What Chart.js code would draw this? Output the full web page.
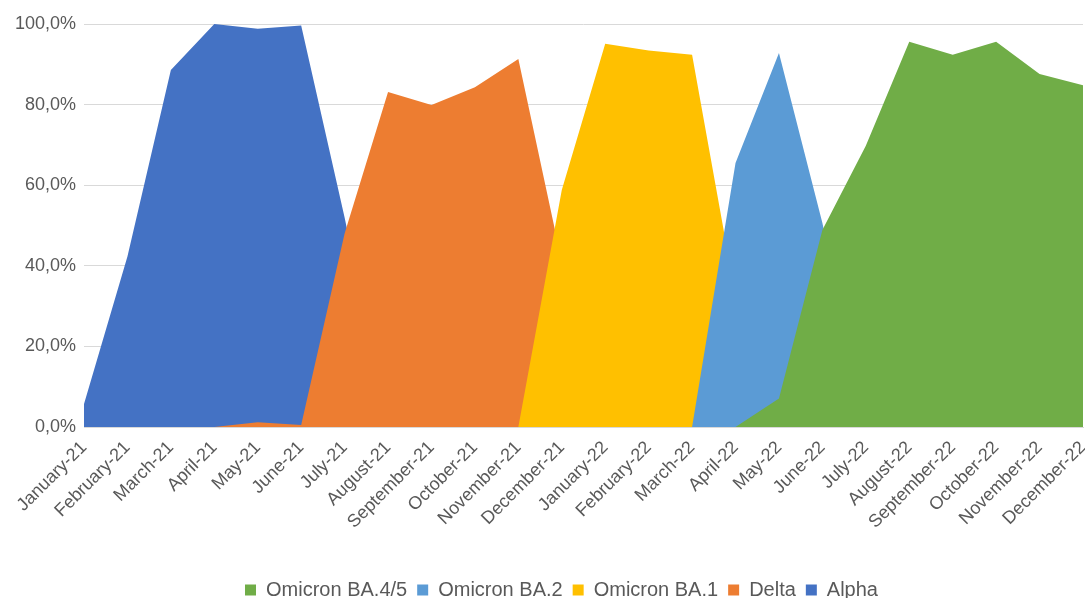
<!DOCTYPE html>
<html>
<head>
<meta charset="utf-8">
<script src="https://cdn.jsdelivr.net/npm/chart.js@4"></script>
<style>
  html, body { margin: 0; padding: 0; background: #fff; }
  #wrap { width: 1085px; height: 598px; }
</style>
</head>
<body>
<div id="wrap"><canvas id="chart"></canvas></div>
<script>
const months = [
    'January-21', 'February-21', 'March-21', 'April-21', 'May-21', 'June-21',
    'July-21', 'August-21', 'September-21', 'October-21', 'November-21', 'December-21',
    'January-22', 'February-22', 'March-22', 'April-22', 'May-22', 'June-22',
    'July-22', 'August-22', 'September-22', 'October-22', 'November-22', 'December-22'
];

// share of sequences per variant (%)
const alpha = [5.7, 42.3, 88.6, 100, 98.8, 99.6, 52, 0, 0, 0, 0, 0, 0, 0, 0, 0, 0, 0, 0, 0, 0, 0, 0, 0];
const delta = [0, 0, 0, 0, 1.2, 0.5, 48, 83.1, 79.9, 84.3, 91.3, 41, 0, 0, 0, 0, 0, 0, 0, 0, 0, 0, 0, 0];
const ba1 = [0, 0, 0, 0, 0, 0, 0, 0, 0, 0, 0, 58.8, 95.1, 93.4, 92.4, 32.5, 0, 0, 0, 0, 0, 0, 0, 0];
const ba2 = [0, 0, 0, 0, 0, 0, 0, 0, 0, 0, 0, 0, 0, 0, 0, 65.5, 92.8, 50.6, 0, 0, 0, 0, 0, 0];
const ba45 = [0, 0, 0, 0, 0, 0, 0, 0, 0, 0, 0, 0, 0, 0, 0, 0, 7.1, 48.9, 69.8, 95.6, 92.4, 95.6, 87.6, 84.8];

const yTicks = [0, 20, 40, 60, 80, 100];

const textColor = '#595959';
const fontFamily = '"Liberation Sans", Arial, sans-serif';

function area(label, data, color) {
    return {
        label: label,
        data: data,
        backgroundColor: color,
        borderColor: color,
        borderWidth: 0,
        pointRadius: 0,
        pointHoverRadius: 0,
        fill: 'origin',
        tension: 0
    };
}

// nudge the legend down/right to where the original has it
const legendShift = {
    id: 'legendShift',
    afterLayout(chart) {
        chart.legend.top += 12;
        chart.legend.bottom += 12;
        chart.legend.left += 20;
        chart.legend.right += 20;
    }
};

// first dataset is painted on top in Chart.js, so newest variant goes first
new Chart(document.getElementById('chart').getContext('2d'), {
    type: 'line',
    data: {
        labels: months,
        datasets: [
            area('Omicron BA.4/5', ba45, '#70AD47'),
            area('Omicron BA.2', ba2, '#5B9BD5'),
            area('Omicron BA.1', ba1, '#FFC000'),
            area('Delta', delta, '#ED7D31'),
            area('Alpha', alpha, '#4472C4')
        ]
    },
    plugins: [legendShift],
    options: {
        responsive: true,
        maintainAspectRatio: false,
        animation: false,
        layout: { padding: { top: 24, right: 2, left: 0, bottom: 0 } },
        scales: {
            x: {
                grid: { display: false, drawTicks: false },
                border: { display: true, color: '#d9d9d9', width: 1 },
                ticks: {
                    color: textColor,
                    font: { family: fontFamily, size: 18 },
                    minRotation: 45,
                    maxRotation: 45,
                    autoSkip: false,
                    padding: 10
                },
                afterFit: (scale) => {
                    scale.height = scale.chart.height - 427 - scale.chart.legend.height;
                    scale.paddingRight = 0;
                    scale.paddingLeft = 0;
                }
            },
            y: {
                min: 0,
                max: 100,
                afterBuildTicks: (scale) => { scale.ticks = yTicks.map(v => ({ value: v })); },
                grid: { color: '#d9d9d9', lineWidth: 1, drawTicks: false },
                border: { display: false },
                ticks: {
                    color: textColor,
                    font: { family: fontFamily, size: 18 },
                    padding: 8,
                    callback: (v) => v.toFixed(1).replace('.', ',') + '%'
                },
                afterFit: (scale) => { scale.width = 84; }
            }
        },
        plugins: {
            legend: {
                position: 'bottom',
                labels: {
                    color: textColor,
                    font: { family: fontFamily, size: 20 },
                    boxWidth: 11,
                    boxHeight: 11,
                    padding: 10
                }
            },
            tooltip: { enabled: false }
        }
    }
});
</script>
</body>
</html>
